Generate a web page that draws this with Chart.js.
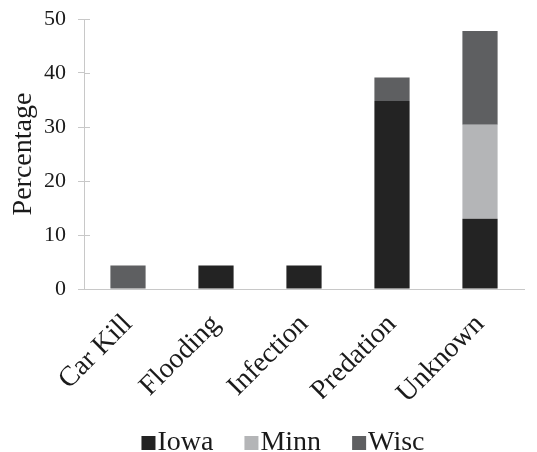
<!DOCTYPE html>
<html>
<head>
<meta charset="utf-8">
<script src="https://cdn.jsdelivr.net/npm/chart.js@4"></script>
<style>
  html, body { margin: 0; padding: 0; background: #fff; }
  #wrap { width: 537px; height: 452px; }
</style>
</head>
<body>
<div id="wrap"><canvas id="myChart"></canvas></div>
<script>
// categories and values
const causes = ["Car Kill", "Flooding", "Infection", "Predation", "Unknown"];
const iowa = [0, 4.35, 4.35, 34.8, 13.0];
const minn = [0, 0, 0, 0, 17.4];
const wisc = [4.35, 0, 0, 4.35, 17.4];
const yTicks = [0, 10, 20, 30, 40, 50];

const textColor = "#1a1a1a";
const axisColor = "#c8c8c8";
const fam = "Liberation Serif";

Chart.defaults.font.family = fam;
Chart.defaults.color = textColor;

// ticks on the y axis cross the axis line, so draw the inner half here
const innerTicks = {
  id: "innerTicks",
  afterDatasetsDraw: function (chart) {
    let y = chart.scales.y;
    let c = chart.ctx;
    c.save();
    c.strokeStyle = axisColor;
    c.lineWidth = 1;
    yTicks.forEach(function (v) {
      let py = Math.round(y.getPixelForValue(v)) + 0.5;
      c.beginPath();
      c.moveTo(y.right, py);
      c.lineTo(y.right + 6, py);
      c.stroke();
    });
    c.restore();
  },
};

// legend drawn by hand: small square right next to the text
const tightLegend = {
  id: "tightLegend",
  afterDraw: function (chart) {
    let c = chart.ctx;
    let sets = chart.data.datasets;
    c.save();
    c.font = "28px " + fam;
    c.textBaseline = "alphabetic";
    let gap = 31;
    let widths = sets.map(function (d) { return 16 + c.measureText(d.label).width; });
    let total = widths.reduce(function (a, b) { return a + b; }, 0) + gap * (sets.length - 1);
    let x = 283 - total / 2;
    let base = 450;
    sets.forEach(function (d, i) {
      c.fillStyle = d.backgroundColor;
      c.fillRect(x, base - 14, 14, 14);
      c.fillStyle = textColor;
      c.fillText(d.label, x + 16, base);
      x += widths[i] + gap;
    });
    c.restore();
  },
};

var ctx = document.getElementById("myChart").getContext("2d");

var chart = new Chart(ctx, {
  type: "bar",
  data: {
    labels: causes,
    datasets: [
      { label: "Iowa", data: iowa, backgroundColor: "#232323" },
      { label: "Minn", data: minn, backgroundColor: "#b4b5b7" },
      { label: "Wisc", data: wisc, backgroundColor: "#5e5f61" },
    ],
  },
  options: {
    responsive: true,
    maintainAspectRatio: false,
    animation: false,
    layout: { padding: { left: 0, right: 13, top: 19, bottom: 53 } },
    datasets: { bar: { categoryPercentage: 0.8, barPercentage: 0.5 } },
    plugins: {
      tooltip: { enabled: false },
      legend: { display: false },
    },
    scales: {
      x: {
        stacked: true,
        afterFit: function (axis) { axis.height = 110; },
        grid: { display: false },
        border: { display: true, color: axisColor, width: 1 },
        ticks: {
          font: { size: 28 },
          minRotation: 45,
          maxRotation: 45,
          padding: 11,
        },
      },
      y: {
        stacked: true,
        min: 0,
        max: 50,
        afterFit: function (axis) {
          axis.width = 84;
          axis.paddingTop = 0;
          axis.paddingBottom = 0;
        },
        afterBuildTicks: function (axis) {
          axis.ticks = yTicks.map(function (v) { return { value: v }; });
        },
        grid: {
          drawOnChartArea: false,
          drawTicks: true,
          tickLength: 6,
          color: axisColor,
        },
        border: { display: true, color: axisColor, width: 1 },
        ticks: {
          font: { size: 22 },
          padding: 12,
        },
        title: {
          display: true,
          text: "Percentage",
          font: { size: 28 },
          padding: { top: 7, bottom: 0 },
        },
      },
    },
  },
  plugins: [innerTicks, tightLegend],
});
</script>
</body>
</html>
